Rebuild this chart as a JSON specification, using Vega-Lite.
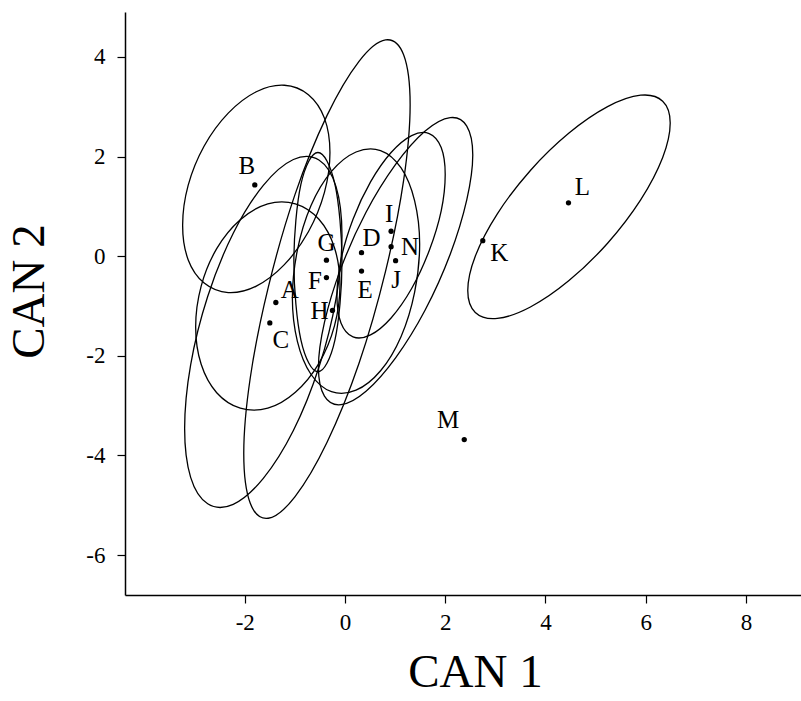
{
  "$schema": "https://vega.github.io/schema/vega-lite/v6.json",
  "autosize": "none",
  "width": 676,
  "height": 583,
  "padding": {"left": 125, "top": 12, "right": 0, "bottom": 106},
  "background": "white",
  "config": {
    "view": {"stroke": null},
    "font": "Liberation Serif",
    "axis": {"grid": false, "domainColor": "black", "domainWidth": 1.5, "tickColor": "black", "tickWidth": 1.2, "tickSize": 8, "labelFont": "Liberation Serif", "labelFontSize": 23, "labelColor": "black", "titleFont": "Liberation Serif", "titleFontWeight": "normal", "titleColor": "black", "titleFontSize": 47}
  },
  "datasets": {
    "pts": [
      {"label": "A", "x": -1.38, "y": -0.93, "lx": -1.10, "ly": -0.67},
      {"label": "B", "x": -1.80, "y": 1.43, "lx": -1.96, "ly": 1.80},
      {"label": "C", "x": -1.50, "y": -1.34, "lx": -1.28, "ly": -1.69},
      {"label": "D", "x": 0.33, "y": 0.07, "lx": 0.53, "ly": 0.36},
      {"label": "E", "x": 0.33, "y": -0.30, "lx": 0.40, "ly": -0.67},
      {"label": "F", "x": -0.37, "y": -0.43, "lx": -0.60, "ly": -0.50},
      {"label": "G", "x": -0.37, "y": -0.08, "lx": -0.37, "ly": 0.26},
      {"label": "H", "x": -0.25, "y": -1.09, "lx": -0.51, "ly": -1.10},
      {"label": "I", "x": 0.92, "y": 0.50, "lx": 0.88, "ly": 0.85},
      {"label": "J", "x": 1.01, "y": -0.09, "lx": 1.02, "ly": -0.47},
      {"label": "K", "x": 2.75, "y": 0.31, "lx": 3.08, "ly": 0.07},
      {"label": "L", "x": 4.46, "y": 1.07, "lx": 4.74, "ly": 1.39},
      {"label": "M", "x": 2.38, "y": -3.68, "lx": 2.06, "ly": -3.29},
      {"label": "N", "x": 0.92, "y": 0.19, "lx": 1.30, "ly": 0.18}
    ],
    "ell": [
      {"e": "B", "i": 0, "x": -0.30, "y": 2.08}, {"e": "B", "i": 1, "x": -0.41, "y": 2.77}, {"e": "B", "i": 2, "x": -0.73, "y": 3.24}, {"e": "B", "i": 3, "x": -1.21, "y": 3.43},
      {"e": "B", "i": 4, "x": -1.77, "y": 3.30}, {"e": "B", "i": 5, "x": -2.33, "y": 2.87}, {"e": "B", "i": 6, "x": -2.81, "y": 2.21}, {"e": "B", "i": 7, "x": -3.13, "y": 1.42},
      {"e": "B", "i": 8, "x": -3.24, "y": 0.62}, {"e": "B", "i": 9, "x": -3.13, "y": -0.07}, {"e": "B", "i": 10, "x": -2.81, "y": -0.54}, {"e": "B", "i": 11, "x": -2.33, "y": -0.73},
      {"e": "B", "i": 12, "x": -1.77, "y": -0.60}, {"e": "B", "i": 13, "x": -1.21, "y": -0.17}, {"e": "B", "i": 14, "x": -0.73, "y": 0.49}, {"e": "B", "i": 15, "x": -0.41, "y": 1.28},

      {"e": "A", "i": 0, "x": -0.10, "y": -0.58}, {"e": "A", "i": 1, "x": -0.21, "y": 0.17}, {"e": "A", "i": 2, "x": -0.52, "y": 0.74}, {"e": "A", "i": 3, "x": -0.99, "y": 1.05},
      {"e": "A", "i": 4, "x": -1.54, "y": 1.05}, {"e": "A", "i": 5, "x": -2.09, "y": 0.73}, {"e": "A", "i": 6, "x": -2.56, "y": 0.15}, {"e": "A", "i": 7, "x": -2.87, "y": -0.60},
      {"e": "A", "i": 8, "x": -2.98, "y": -1.42}, {"e": "A", "i": 9, "x": -2.87, "y": -2.17}, {"e": "A", "i": 10, "x": -2.56, "y": -2.74}, {"e": "A", "i": 11, "x": -2.09, "y": -3.05},
      {"e": "A", "i": 12, "x": -1.54, "y": -3.05}, {"e": "A", "i": 13, "x": -0.99, "y": -2.73}, {"e": "A", "i": 14, "x": -0.52, "y": -2.15}, {"e": "A", "i": 15, "x": -0.21, "y": -1.40},

      {"e": "C", "i": 0, "x": -0.06, "y": 0.42}, {"e": "C", "i": 1, "x": -0.18, "y": 1.40}, {"e": "C", "i": 2, "x": -0.52, "y": 1.93}, {"e": "C", "i": 3, "x": -1.03, "y": 1.94},
      {"e": "C", "i": 4, "x": -1.63, "y": 1.42}, {"e": "C", "i": 5, "x": -2.23, "y": 0.46}, {"e": "C", "i": 6, "x": -2.74, "y": -0.81}, {"e": "C", "i": 7, "x": -3.08, "y": -2.18},
      {"e": "C", "i": 8, "x": -3.20, "y": -3.46}, {"e": "C", "i": 9, "x": -3.08, "y": -4.44}, {"e": "C", "i": 10, "x": -2.74, "y": -4.97}, {"e": "C", "i": 11, "x": -2.23, "y": -4.98},
      {"e": "C", "i": 12, "x": -1.63, "y": -4.46}, {"e": "C", "i": 13, "x": -1.03, "y": -3.50}, {"e": "C", "i": 14, "x": -0.52, "y": -2.23}, {"e": "C", "i": 15, "x": -0.18, "y": -0.86},

      {"e": "F", "i": 0, "x": 1.30, "y": 3.04}, {"e": "F", "i": 1, "x": 1.17, "y": 4.04}, {"e": "F", "i": 2, "x": 0.81, "y": 4.34}, {"e": "F", "i": 3, "x": 0.28, "y": 3.91},
      {"e": "F", "i": 4, "x": -0.36, "y": 2.82}, {"e": "F", "i": 5, "x": -1.00, "y": 1.23}, {"e": "F", "i": 6, "x": -1.53, "y": -0.62}, {"e": "F", "i": 7, "x": -1.89, "y": -2.44},
      {"e": "F", "i": 8, "x": -2.02, "y": -3.96}, {"e": "F", "i": 9, "x": -1.89, "y": -4.96}, {"e": "F", "i": 10, "x": -1.53, "y": -5.26}, {"e": "F", "i": 11, "x": -1.00, "y": -4.83},
      {"e": "F", "i": 12, "x": -0.36, "y": -3.74}, {"e": "F", "i": 13, "x": 0.28, "y": -2.15}, {"e": "F", "i": 14, "x": 0.81, "y": -0.30}, {"e": "F", "i": 15, "x": 1.17, "y": 1.52},

      {"e": "G", "i": 0, "x": -0.06, "y": -0.12}, {"e": "G", "i": 1, "x": -0.10, "y": 0.72}, {"e": "G", "i": 2, "x": -0.20, "y": 1.44}, {"e": "G", "i": 3, "x": -0.36, "y": 1.91},
      {"e": "G", "i": 4, "x": -0.54, "y": 2.08}, {"e": "G", "i": 5, "x": -0.72, "y": 1.91}, {"e": "G", "i": 6, "x": -0.88, "y": 1.44}, {"e": "G", "i": 7, "x": -0.98, "y": 0.72},
      {"e": "G", "i": 8, "x": -1.02, "y": -0.12}, {"e": "G", "i": 9, "x": -0.98, "y": -0.96}, {"e": "G", "i": 10, "x": -0.88, "y": -1.68}, {"e": "G", "i": 11, "x": -0.72, "y": -2.15},
      {"e": "G", "i": 12, "x": -0.54, "y": -2.32}, {"e": "G", "i": 13, "x": -0.36, "y": -2.15}, {"e": "G", "i": 14, "x": -0.20, "y": -1.68}, {"e": "G", "i": 15, "x": -0.10, "y": -0.96},

      {"e": "E", "i": 0, "x": 1.49, "y": 0.24}, {"e": "E", "i": 1, "x": 1.39, "y": 1.11}, {"e": "E", "i": 2, "x": 1.12, "y": 1.77}, {"e": "E", "i": 3, "x": 0.71, "y": 2.12},
      {"e": "E", "i": 4, "x": 0.22, "y": 2.09}, {"e": "E", "i": 5, "x": -0.27, "y": 1.70}, {"e": "E", "i": 6, "x": -0.68, "y": 1.01}, {"e": "E", "i": 7, "x": -0.95, "y": 0.12},
      {"e": "E", "i": 8, "x": -1.05, "y": -0.84}, {"e": "E", "i": 9, "x": -0.95, "y": -1.71}, {"e": "E", "i": 10, "x": -0.68, "y": -2.37}, {"e": "E", "i": 11, "x": -0.27, "y": -2.72},
      {"e": "E", "i": 12, "x": 0.22, "y": -2.69}, {"e": "E", "i": 13, "x": 0.71, "y": -2.30}, {"e": "E", "i": 14, "x": 1.12, "y": -1.61}, {"e": "E", "i": 15, "x": 1.39, "y": -0.72},

      {"e": "I", "i": 0, "x": 2.00, "y": 1.64}, {"e": "I", "i": 1, "x": 1.92, "y": 2.18}, {"e": "I", "i": 2, "x": 1.68, "y": 2.46}, {"e": "I", "i": 3, "x": 1.33, "y": 2.42},
      {"e": "I", "i": 4, "x": 0.92, "y": 2.08}, {"e": "I", "i": 5, "x": 0.51, "y": 1.49}, {"e": "I", "i": 6, "x": 0.16, "y": 0.74}, {"e": "I", "i": 7, "x": -0.08, "y": -0.07},
      {"e": "I", "i": 8, "x": -0.16, "y": -0.80}, {"e": "I", "i": 9, "x": -0.08, "y": -1.34}, {"e": "I", "i": 10, "x": 0.16, "y": -1.62}, {"e": "I", "i": 11, "x": 0.51, "y": -1.58},
      {"e": "I", "i": 12, "x": 0.92, "y": -1.24}, {"e": "I", "i": 13, "x": 1.33, "y": -0.65}, {"e": "I", "i": 14, "x": 1.68, "y": 0.11}, {"e": "I", "i": 15, "x": 1.92, "y": 0.91},

      {"e": "J", "i": 0, "x": 2.55, "y": 2.03}, {"e": "J", "i": 1, "x": 2.43, "y": 2.61}, {"e": "J", "i": 2, "x": 2.10, "y": 2.78}, {"e": "J", "i": 3, "x": 1.60, "y": 2.51},
      {"e": "J", "i": 4, "x": 1.01, "y": 1.84}, {"e": "J", "i": 5, "x": 0.42, "y": 0.88}, {"e": "J", "i": 6, "x": -0.08, "y": -0.24}, {"e": "J", "i": 7, "x": -0.41, "y": -1.33},
      {"e": "J", "i": 8, "x": -0.53, "y": -2.23}, {"e": "J", "i": 9, "x": -0.41, "y": -2.81}, {"e": "J", "i": 10, "x": -0.08, "y": -2.98}, {"e": "J", "i": 11, "x": 0.42, "y": -2.71},
      {"e": "J", "i": 12, "x": 1.01, "y": -2.04}, {"e": "J", "i": 13, "x": 1.60, "y": -1.08}, {"e": "J", "i": 14, "x": 2.10, "y": 0.04}, {"e": "J", "i": 15, "x": 2.43, "y": 1.13},

      {"e": "L", "i": 0, "x": 6.49, "y": 2.67}, {"e": "L", "i": 1, "x": 6.34, "y": 3.11}, {"e": "L", "i": 2, "x": 5.90, "y": 3.23}, {"e": "L", "i": 3, "x": 5.24, "y": 3.00},
      {"e": "L", "i": 4, "x": 4.47, "y": 2.47}, {"e": "L", "i": 5, "x": 3.70, "y": 1.72}, {"e": "L", "i": 6, "x": 3.04, "y": 0.85}, {"e": "L", "i": 7, "x": 2.60, "y": 0.00},
      {"e": "L", "i": 8, "x": 2.45, "y": -0.69}, {"e": "L", "i": 9, "x": 2.60, "y": -1.13}, {"e": "L", "i": 10, "x": 3.04, "y": -1.25}, {"e": "L", "i": 11, "x": 3.70, "y": -1.02},
      {"e": "L", "i": 12, "x": 4.47, "y": -0.49}, {"e": "L", "i": 13, "x": 5.24, "y": 0.26}, {"e": "L", "i": 14, "x": 5.90, "y": 1.13}, {"e": "L", "i": 15, "x": 6.34, "y": 1.98}
    ]
  },
  "layer": [
    {
      "data": {"name": "ell"},
      "mark": {"type": "line", "interpolate": "cardinal-closed", "color": "black", "strokeWidth": 1.3},
      "encoding": {
        "x": {"field": "x", "type": "quantitative", "title": "CAN 1",
              "scale": {"domain": [-4.39, 9.1], "nice": false, "zero": false},
              "axis": {"values": [-2, 0, 2, 4, 6, 8], "labelExpr": "'' + datum.value", "labelPadding": 8, "titleX": 350, "titleY": 91, "titleBaseline": "alphabetic", "titleAnchor": "middle"}},
        "y": {"field": "y", "type": "quantitative", "title": "CAN 2",
              "scale": {"domain": [-6.8, 4.9], "nice": false, "zero": false},
              "axis": {"values": [-6, -4, -2, 0, 2, 4], "labelExpr": "'' + datum.value", "labelPadding": 12, "titleX": -82, "titleY": 279, "titleAngle": -90, "titleBaseline": "alphabetic", "titleAnchor": "middle"}},
        "detail": {"field": "e"},
        "order": {"field": "i", "type": "quantitative"}
      }
    },
    {
      "data": {"name": "pts"},
      "mark": {"type": "point", "shape": "circle", "filled": true, "color": "black", "size": 28, "opacity": 1},
      "encoding": {
        "x": {"field": "x", "type": "quantitative", "title": "CAN 1"},
        "y": {"field": "y", "type": "quantitative", "title": "CAN 2"}
      }
    },
    {
      "data": {"name": "pts"},
      "mark": {"type": "text", "font": "Liberation Serif", "fontSize": 25, "color": "black", "align": "center", "baseline": "middle"},
      "encoding": {
        "x": {"field": "lx", "type": "quantitative", "title": "CAN 1"},
        "y": {"field": "ly", "type": "quantitative", "title": "CAN 2"},
        "text": {"field": "label"}
      }
    }
  ]
}
